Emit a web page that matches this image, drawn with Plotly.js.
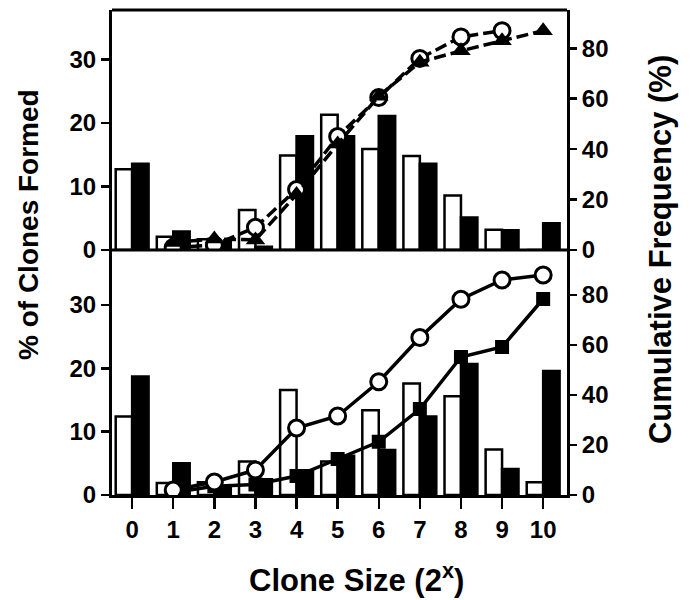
<!DOCTYPE html>
<html>
<head>
<meta charset="utf-8">
<script src="https://cdn.plot.ly/plotly-3.0.1.min.js"></script>
<style>body{margin:0;background:#fff}#chart{width:690px;height:600px}</style>
</head>
<body>
<div id="chart"></div>
<script>
// Data
const cloneSize = [0, 1, 2, 3, 4, 5, 6, 7, 8, 9, 10];
const tickLabels = ["0", "1", "2", "3", "4", "5", "6", "7", "8", "9", "10"];

// Top panel: % of clones formed (bars)
const topOpen = [12.7, 2.1, 1.7, 6.3, 14.9, 21.3, 15.9, 14.8, 8.6, 3.2, 0];
const topFilled = [13.6, 2.9, 1.3, 0.5, 17.9, 17.9, 21.1, 13.6, 5.1, 3.1, 4.2];
// Top panel: cumulative frequency (lines)
const topCircleX = [1, 2, 3, 4, 5, 6, 7, 8, 9];
const topCircle = [1, 2, 9, 24, 45, 60.5, 76, 84.5, 87];
const topTriX = [1, 2, 3, 4, 5, 6, 7, 8, 9, 10];
const topTri = [3, 4.4, 4, 22, 42, 61, 74.5, 79, 83, 87];

// Bottom panel: % of clones formed (bars)
const botOpen = [12.4, 1.9, 2.0, 5.3, 16.6, 5.3, 13.4, 17.6, 15.6, 7.2, 2.0];
const botFilled = [18.7, 5.0, 1.2, 2.5, 3.9, 6.2, 7.1, 12.4, 20.7, 4.1, 19.6];
// Bottom panel: cumulative frequency (lines)
const botCircleX = [1, 2, 3, 4, 5, 6, 7, 8, 9, 10];
const botCircle = [2, 5.2, 10, 26.8, 31.6, 45.3, 63, 78.3, 86, 88];
const botSquareX = [1, 2, 3, 4, 5, 6, 7, 8, 9, 10];
const botSquare = [1, 3.5, 4.2, 7.6, 14.4, 21.3, 34.4, 55.2, 59.2, 78.4];

const FONT = "Liberation Sans, Arial, Helvetica, sans-serif";
const split = 245 / 485;

const barOpen = {type: 'bar', marker: {color: '#fff', line: {color: '#000', width: 2.5}}, showlegend: false, hoverinfo: 'skip'};
const barFill = {type: 'bar', marker: {color: '#000', line: {color: '#000', width: 2.5}}, showlegend: false, hoverinfo: 'skip'};

const traces = [
  Object.assign({}, barOpen, {x: cloneSize, y: botOpen, xaxis: 'x', yaxis: 'y'}),
  Object.assign({}, barFill, {x: cloneSize, y: botFilled, xaxis: 'x', yaxis: 'y'}),
  Object.assign({}, barOpen, {x: cloneSize, y: topOpen, xaxis: 'x', yaxis: 'y3'}),
  Object.assign({}, barFill, {x: cloneSize, y: topFilled, xaxis: 'x', yaxis: 'y3'}),
  {type: 'scatter', mode: 'lines+markers', x: botSquareX, y: botSquare, xaxis: 'x', yaxis: 'y2',
   line: {color: '#000', width: 3.5}, marker: {symbol: 'square', size: 14, color: '#000'}, showlegend: false},
  {type: 'scatter', mode: 'lines+markers', x: botCircleX, y: botCircle, xaxis: 'x', yaxis: 'y2',
   line: {color: '#000', width: 3.5}, marker: {symbol: 'circle', size: 16, color: '#fff', line: {color: '#000', width: 3}}, showlegend: false},
  {type: 'scatter', mode: 'lines+markers', x: topCircleX, y: topCircle, xaxis: 'x', yaxis: 'y4',
   line: {color: '#000', width: 3.5, dash: '12px,5px'}, marker: {symbol: 'circle', size: 16, color: '#fff', line: {color: '#000', width: 3}}, showlegend: false},
  {type: 'scatter', mode: 'lines+markers', x: topTriX, y: topTri, xaxis: 'x', yaxis: 'y4',
   line: {color: '#000', width: 3.5, dash: '12px,5px'}, marker: {symbol: 'triangle-up', size: 17, color: '#000'}, showlegend: false}
];

const tickFont = {family: FONT, size: 24, color: '#000', weight: 'bold'};
const yCommon = {showgrid: false, zeroline: false, showline: true, linewidth: 3, linecolor: '#000',
  ticks: 'outside', ticklen: 8, tickwidth: 2.5, tickcolor: '#000', tickfont: tickFont, fixedrange: true};

const layout = {
  width: 690, height: 600,
  margin: {l: 112, r: 123, t: 10, b: 105},
  paper_bgcolor: '#fff', plot_bgcolor: 'rgba(0,0,0,0)',
  barmode: 'group', bargap: 0.2, bargroupgap: 0,
  showlegend: false,
  xaxis: {range: [-0.49, 10.58], tickvals: cloneSize, ticktext: tickLabels, showgrid: false, zeroline: false,
    showline: true, linewidth: 3, linecolor: '#000', ticks: 'outside', ticklen: 11, tickwidth: 2.5, tickcolor: '#000',
    tickfont: tickFont, anchor: 'y', fixedrange: true},
  yaxis: Object.assign({}, yCommon, {domain: [0, split], range: [0, 38.7], tickvals: [0, 10, 20, 30], anchor: 'x'}),
  yaxis2: Object.assign({}, yCommon, {overlaying: 'y', side: 'right', range: [0, 98], tickvals: [0, 20, 40, 60, 80], anchor: 'x', ticklen: 7}),
  yaxis3: Object.assign({}, yCommon, {domain: [split, 1], range: [0, 37.8], tickvals: [0, 10, 20, 30], anchor: 'x'}),
  yaxis4: Object.assign({}, yCommon, {overlaying: 'y3', side: 'right', range: [0, 95.2], tickvals: [0, 20, 40, 60, 80], anchor: 'x', ticklen: 7}),
  shapes: [
    {type: 'line', xref: 'paper', yref: 'paper', x0: 0, x1: 1, y0: 1, y1: 1, line: {color: '#000', width: 3}},
    {type: 'line', xref: 'paper', yref: 'paper', x0: 0, x1: 1, y0: split, y1: split, line: {color: '#000', width: 3}}
  ],
  annotations: [
    {text: '% of Clones Formed', xref: 'paper', yref: 'paper', x: -0.1846, y: 0.5567, textangle: -90,
     showarrow: false, xanchor: 'center', yanchor: 'middle', font: {family: FONT, size: 28, color: '#000', weight: 'bold'}},
    {text: 'Cumulative Frequency (%)', xref: 'paper', yref: 'paper', x: 1.2044, y: 0.505, textangle: -90,
     showarrow: false, xanchor: 'center', yanchor: 'middle', font: {family: FONT, size: 31, color: '#000', weight: 'bold'}},
    {text: 'Clone Size (2<sup>x</sup>)', xref: 'paper', yref: 'paper', x: 0.538, y: -0.171,
     showarrow: false, xanchor: 'center', yanchor: 'middle', font: {family: FONT, size: 31, color: '#000', weight: 'bold'}}
  ]
};

Plotly.newPlot('chart', traces, layout, {displayModeBar: false, staticPlot: true});
</script>
</body>
</html>
